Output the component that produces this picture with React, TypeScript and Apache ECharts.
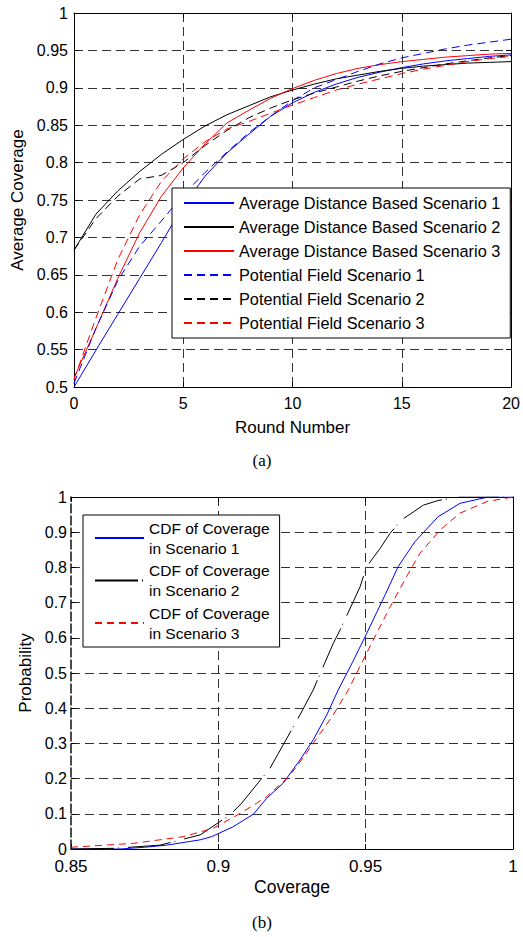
import React, { useEffect, useRef } from "react";
import * as echarts from "echarts";

// ---------- Chart (a) data ----------
const rounds = [0, 1, 2, 3, 4, 5, 6, 7, 8, 9, 10, 11, 12, 13, 14, 15, 16, 17, 18, 19, 20];
const adbScenario1 = [0.5, 0.549, 0.597, 0.645, 0.693, 0.742, 0.782, 0.813, 0.838, 0.862, 0.88, 0.894, 0.905, 0.914, 0.921, 0.927, 0.932, 0.936, 0.939, 0.942, 0.944];
const adbScenario2 = [0.683, 0.731, 0.762, 0.788, 0.811, 0.831, 0.849, 0.864, 0.876, 0.888, 0.897, 0.905, 0.912, 0.917, 0.922, 0.926, 0.929, 0.931, 0.933, 0.934, 0.935];
const adbScenario3 = [0.512, 0.578, 0.645, 0.706, 0.755, 0.793, 0.825, 0.853, 0.87, 0.886, 0.899, 0.91, 0.919, 0.926, 0.931, 0.935, 0.938, 0.941, 0.943, 0.945, 0.946];
const pfScenario1 = [0.505, 0.578, 0.642, 0.688, 0.722, 0.757, 0.787, 0.814, 0.84, 0.862, 0.883, 0.9, 0.911, 0.922, 0.932, 0.94, 0.946, 0.952, 0.957, 0.961, 0.965];
const pfScenario2 = [0.683, 0.725, 0.755, 0.778, 0.783, 0.8, 0.823, 0.843, 0.86, 0.873, 0.884, 0.893, 0.901, 0.909, 0.916, 0.922, 0.927, 0.932, 0.936, 0.94, 0.943];
const pfScenario3 = [0.51, 0.592, 0.67, 0.73, 0.775, 0.805, 0.828, 0.845, 0.855, 0.866, 0.877, 0.887, 0.897, 0.905, 0.912, 0.919, 0.925, 0.93, 0.935, 0.939, 0.942];

const namesA = [
  "Average Distance Based Scenario 1",
  "Average Distance Based Scenario 2",
  "Average Distance Based Scenario 3",
  "Potential Field Scenario 1",
  "Potential Field Scenario 2",
  "Potential Field Scenario 3",
];

// ---------- Chart (b) data ----------
const cdf1Coverage = [0.85, 0.8666, 0.875, 0.8825, 0.8938, 0.8977, 0.905, 0.9119, 0.9164, 0.922, 0.9277, 0.9322, 0.9368, 0.9407, 0.9455, 0.9498, 0.9566, 0.961, 0.9667, 0.9746, 0.982, 0.991, 1.0];
const cdf1Prob = [0, 0, 0.005, 0.011, 0.026, 0.035, 0.063, 0.099, 0.144, 0.187, 0.253, 0.31, 0.381, 0.452, 0.53, 0.603, 0.722, 0.802, 0.873, 0.944, 0.982, 0.999, 1.0];
const cdf2Coverage = [0.85, 0.865, 0.8802, 0.8938, 0.904, 0.9079, 0.9175, 0.9204, 0.9277, 0.9322, 0.9362, 0.939, 0.9413, 0.9458, 0.9481, 0.9503, 0.9549, 0.9583, 0.9622, 0.9696, 0.9746, 0.982, 1.0];
const cdf2Prob = [0, 0.002, 0.011, 0.04, 0.097, 0.13, 0.229, 0.272, 0.381, 0.452, 0.53, 0.584, 0.622, 0.703, 0.745, 0.802, 0.854, 0.897, 0.935, 0.977, 0.99, 1.0, 1.0];
const cdf3Coverage = [0.85, 0.8711, 0.8881, 0.8983, 0.9074, 0.913, 0.9164, 0.9232, 0.9266, 0.939, 0.9441, 0.9503, 0.9583, 0.9639, 0.9684, 0.9752, 0.982, 0.9911, 1.0];
const cdf3Prob = [0.005, 0.016, 0.035, 0.059, 0.101, 0.13, 0.149, 0.2, 0.234, 0.381, 0.452, 0.556, 0.688, 0.774, 0.84, 0.906, 0.954, 0.987, 1.0];

const namesB = [
  "CDF of Coverage\nin Scenario 1",
  "CDF of Coverage\nin Scenario 2",
  "CDF of Coverage\nin Scenario 3",
];

const FONT = 'Arial, "Liberation Sans", Helvetica, sans-serif';
const SERIF = '"Times New Roman", "Liberation Serif", serif';

const fmt = (v: number) => String(Math.round(v * 100) / 100);
const zip = (xs: number[], ys: number[]) => xs.map((x, i) => [x, ys[i]]);

export default function App() {
  const ref = useRef<HTMLDivElement>(null);

  useEffect(() => {
    if (!ref.current) return;
    const chart = echarts.init(ref.current, null, { renderer: "svg" });

    const gridLine = { show: true, lineStyle: { color: "#333", width: 1, type: [9, 5] as any } };
    const mainAxisCommon = (fontSize: number) => ({
      type: "value" as const,
      axisLine: { show: true, onZero: false, lineStyle: { color: "#000", width: 1 } },
      axisTick: { show: true, inside: true, length: 5, lineStyle: { color: "#000" } },
      axisLabel: { color: "#000", fontSize, fontFamily: FONT, formatter: fmt },
      splitLine: gridLine,
    });
    const boxAxis = {
      type: "value" as const,
      axisLine: { show: true, onZero: false, lineStyle: { color: "#000", width: 1 } },
      axisTick: { show: true, inside: true, length: 5, lineStyle: { color: "#000" } },
      axisLabel: { show: false },
      splitLine: { show: false },
    };

    const lineSeries = (name: string, data: number[], color: string, dashed: boolean) => ({
      name,
      type: "line",
      xAxisIndex: 0,
      yAxisIndex: 0,
      data: zip(rounds, data),
      symbol: "none",
      lineStyle: { color, width: 1, type: dashed ? ([8, 5] as any) : "solid" },
      itemStyle: { color },
      z: 3,
    });

    const option: any = {
      animation: false,
      backgroundColor: "#fff",
      grid: [
        { left: 74, top: 13, width: 441, height: 374 },
        { left: 71, top: 497, width: 442, height: 352 },
      ],
      xAxis: [
        {
          ...mainAxisCommon(16),
          gridIndex: 0,
          position: "bottom",
          min: 0,
          max: 20,
          interval: 5,
          axisLabel: { ...mainAxisCommon(16).axisLabel, margin: 8 },
          name: "Round Number",
          nameLocation: "middle",
          nameGap: 32,
          nameTextStyle: { color: "#000", fontSize: 17, fontFamily: FONT },
        },
        { ...boxAxis, gridIndex: 0, position: "top", min: 0, max: 20, interval: 5 },
        {
          ...mainAxisCommon(17),
          gridIndex: 1,
          position: "bottom",
          min: 0.85,
          max: 1,
          interval: 0.05,
          axisLabel: { ...mainAxisCommon(17).axisLabel, margin: 9 },
          splitLine: { ...gridLine, showMinLine: false },
          name: "Coverage",
          nameLocation: "middle",
          nameGap: 29,
          nameTextStyle: { color: "#000", fontSize: 17.5, fontFamily: FONT },
        },
        { ...boxAxis, gridIndex: 1, position: "top", min: 0.85, max: 1, interval: 0.05 },
      ],
      yAxis: [
        {
          ...mainAxisCommon(16),
          gridIndex: 0,
          position: "left",
          min: 0.5,
          max: 1,
          interval: 0.05,
          axisLabel: { ...mainAxisCommon(16).axisLabel, margin: 6 },
          name: "Average Coverage",
          nameLocation: "middle",
          nameGap: 43,
          nameTextStyle: { color: "#000", fontSize: 17, fontFamily: FONT },
        },
        { ...boxAxis, gridIndex: 0, position: "right", min: 0.5, max: 1, interval: 0.05 },
        {
          ...mainAxisCommon(16),
          gridIndex: 1,
          position: "left",
          min: 0,
          max: 1,
          interval: 0.1,
          axisLine: { show: true, onZero: false, lineStyle: { color: "#111", width: 1.5, type: [9, 3] as any } },
          axisLabel: { ...mainAxisCommon(16).axisLabel, margin: 4, lineHeight: 16 },
          name: "Probability",
          nameLocation: "middle",
          nameGap: 36,
          nameTextStyle: { color: "#000", fontSize: 17, fontFamily: FONT },
        },
        { ...boxAxis, gridIndex: 1, position: "right", min: 0, max: 1, interval: 0.1 },
      ],
      legend: [
        {
          data: namesA,
          orient: "vertical",
          left: 172,
          top: 188,
          padding: [6, 10, 6, 11],
          itemWidth: 50,
          itemHeight: 18,
          itemGap: 6,
          borderColor: "#000",
          borderWidth: 1,
          borderRadius: 0,
          backgroundColor: "#fff",
          selectedMode: false,
          itemStyle: { opacity: 0, borderWidth: 0 },
          textStyle: { color: "#000", fontSize: 16.3, fontFamily: FONT, lineHeight: 18 },
        },
        {
          data: namesB,
          orient: "vertical",
          left: 83,
          top: 515,
          padding: [3, 10, 4, 11],
          itemWidth: 49,
          itemHeight: 20,
          itemGap: 2.5,
          borderColor: "#000",
          borderWidth: 1,
          borderRadius: 0,
          backgroundColor: "#fff",
          selectedMode: false,
          itemStyle: { opacity: 0, borderWidth: 0 },
          textStyle: { color: "#000", fontSize: 15.5, fontFamily: FONT, lineHeight: 20 },
        },
      ],
      series: [
        lineSeries(namesA[0], adbScenario1, "#0000ff", false),
        lineSeries(namesA[1], adbScenario2, "#000000", false),
        lineSeries(namesA[2], adbScenario3, "#ff0000", false),
        lineSeries(namesA[3], pfScenario1, "#0000ff", true),
        lineSeries(namesA[4], pfScenario2, "#000000", true),
        lineSeries(namesA[5], pfScenario3, "#ff0000", true),
        {
          name: namesB[0],
          type: "line",
          xAxisIndex: 2,
          yAxisIndex: 2,
          data: zip(cdf1Coverage, cdf1Prob),
          symbol: "none",
          lineStyle: { color: "#0000ff", width: 1, type: "solid" },
          itemStyle: { color: "#0000ff" },
          z: 3,
        },
        {
          name: namesB[1],
          type: "line",
          xAxisIndex: 2,
          yAxisIndex: 2,
          data: zip(cdf2Coverage, cdf2Prob),
          symbol: "none",
          lineStyle: { color: "#000000", width: 1, type: [43, 4, 1, 9] },
          itemStyle: { color: "#000000" },
          z: 3,
        },
        {
          name: namesB[2],
          type: "line",
          xAxisIndex: 2,
          yAxisIndex: 2,
          data: zip(cdf3Coverage, cdf3Prob),
          symbol: "none",
          lineStyle: { color: "#ff0000", width: 1, type: [7, 5] },
          itemStyle: { color: "#ff0000" },
          z: 3,
        },
      ],
      graphic: [
        {
          type: "text",
          x: 262,
          y: 460,
          style: { text: "(a)", align: "center", verticalAlign: "middle", fontSize: 17, fontFamily: SERIF, fill: "#000" },
        },
        {
          type: "text",
          x: 262,
          y: 922,
          style: { text: "(b)", align: "center", verticalAlign: "middle", fontSize: 17, fontFamily: SERIF, fill: "#000" },
        },
      ],
    };

    chart.setOption(option);
    return () => chart.dispose();
  }, []);

  return (
    <div
      ref={ref}
      style={{ position: "fixed", left: 0, top: 0, width: 523, height: 937, background: "#fff" }}
    />
  );
}
